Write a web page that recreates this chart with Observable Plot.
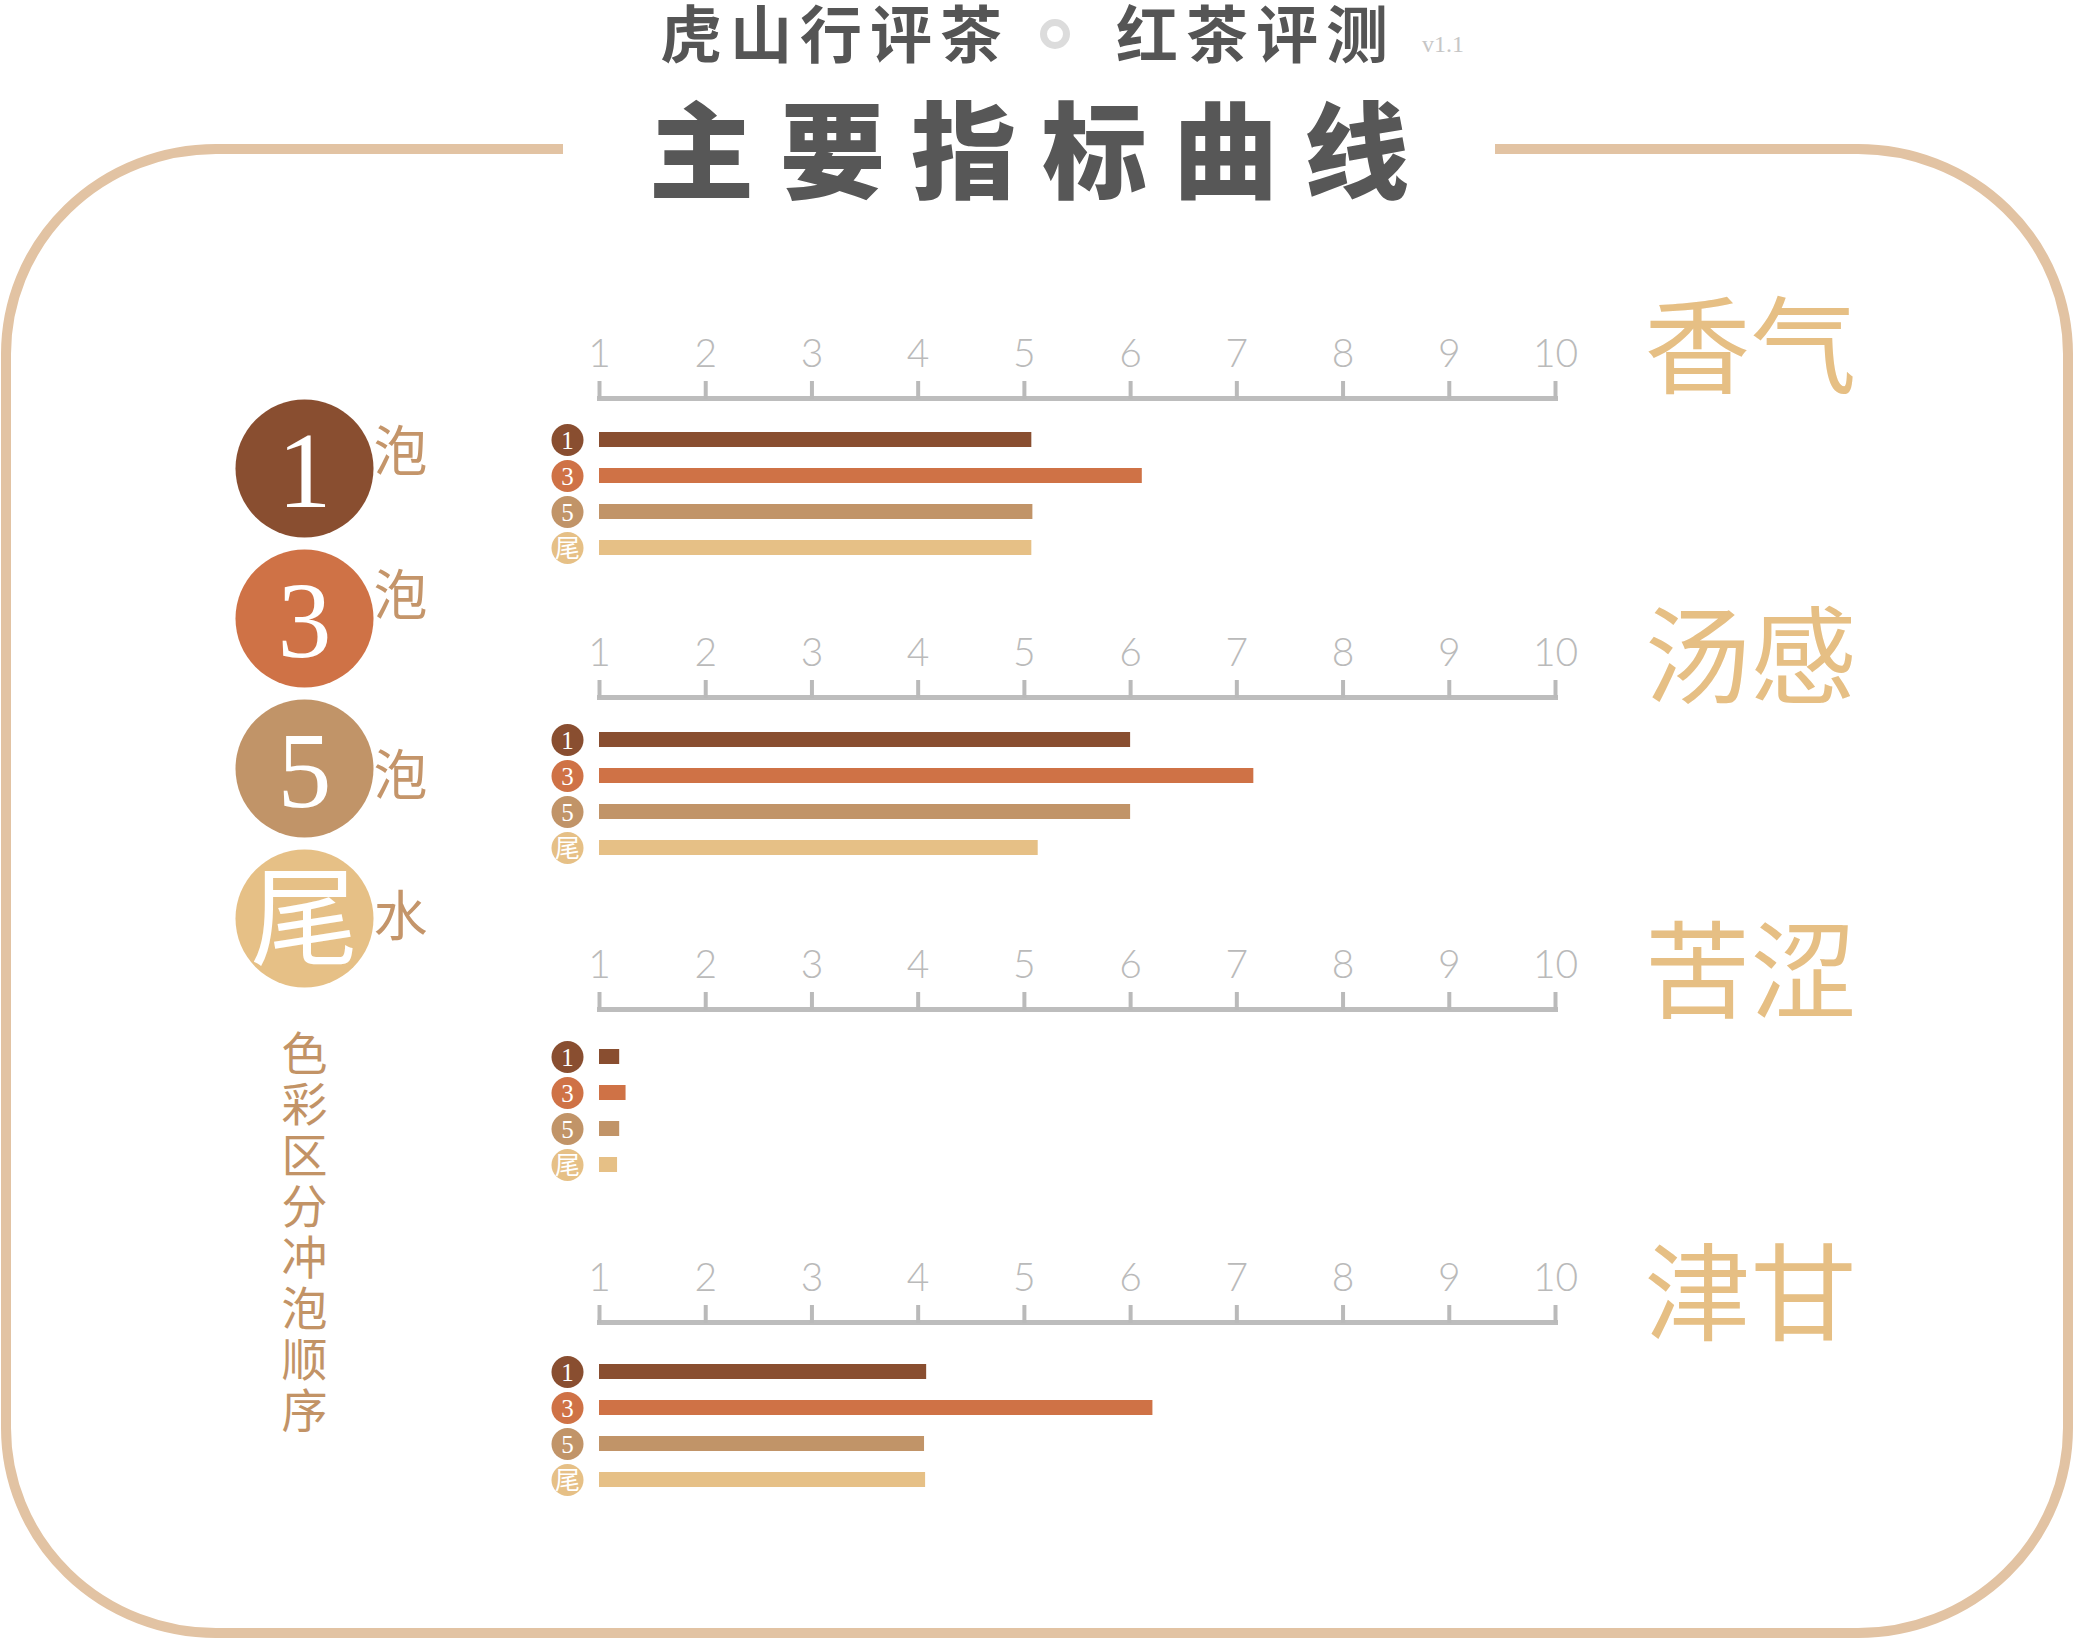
<!DOCTYPE html>
<html>
<head>
<meta charset="utf-8">
<script src="https://cdn.jsdelivr.net/npm/d3@7"></script>
<script src="https://cdn.jsdelivr.net/npm/@observablehq/plot@0.6"></script>
<style>
html, body { margin: 0; padding: 0; background: #fff; }
#root { position: relative; width: 2075px; height: 1640px; overflow: hidden; background: #fff; }
.abs { position: absolute; }
.abs svg { display: block; max-width: none; }
.cjk { font-family: "Noto Sans CJK SC", "Noto Sans", sans-serif; white-space: nowrap; }
</style>
</head>
<body>
<div id="root"></div>
<script>
// ---------- data ----------
const metrics = ["香气", "汤感", "苦涩", "津甘"];
const brews = ["1泡", "3泡", "5泡", "尾水"];
const brewMarks = ["1", "3", "5", "尾"];
const brewSuffix = ["泡", "泡", "泡", "水"];
const brewColors = ["#894e30", "#cf7246", "#c19468", "#e6c086"];
const aroma = [5.07, 6.11, 5.08, 5.07];       // 香气
const body = [6.0, 7.16, 6.0, 5.13];          // 汤感
const bitterness = [1.19, 1.25, 1.19, 1.17];  // 苦涩
const sweetness = [4.08, 6.21, 4.06, 4.07];   // 津甘
const tickValues = [1, 2, 3, 4, 5, 6, 7, 8, 9, 10];
const titleLeft = "虎山行评茶";
const titleRight = "红茶评测";
const version = "v1.1";
const title = "主要指标曲线";
const legendNote = "色彩区分冲泡顺序";

// ---------- layout ----------
const root = document.getElementById("root");
const W = 2075;
const X0 = 599, X1 = 1555;
const axisYs = [398, 697, 1009, 1322];
const barOffsets = [33, 34.5, 39, 41.5];
const labelDy = [-47, -36, -33, -24];
const suffixDy = [-15, -21, 9, 0];
const MT = 120;

function place(el, left, top) {
  const d = document.createElement("div");
  d.className = "abs";
  d.style.left = left + "px";
  d.style.top = top + "px";
  d.appendChild(el);
  root.appendChild(d);
  return d;
}

// border (decoration)
const ns = "http://www.w3.org/2000/svg";
const bsvg = document.createElementNS(ns, "svg");
bsvg.setAttribute("width", W);
bsvg.setAttribute("height", 1640);
const bpath = document.createElementNS(ns, "path");
const L = 6, R = 2068, T = 149, B = 1633, rx = 210, ry = 205;
bpath.setAttribute("d",
  `M563,${T} L${L + rx},${T} A${rx},${ry} 0 0 0 ${L},${T + ry} L${L},${B - ry} A${rx},${ry} 0 0 0 ${L + rx},${B} ` +
  `L${R - rx},${B} A${rx},${ry} 0 0 0 ${R},${B - ry} L${R},${T + ry} A${rx},${ry} 0 0 0 ${R - rx},${T} L1495,${T}`);
bpath.setAttribute("fill", "none");
bpath.setAttribute("stroke", "#e2c3a3");
bpath.setAttribute("stroke-width", 10);
bsvg.appendChild(bpath);
place(bsvg, 0, 0);

// titles
function textDiv(txt, css) {
  const d = document.createElement("div");
  d.className = "cjk";
  d.textContent = txt;
  Object.assign(d.style, css);
  return d;
}
place(textDiv(titleLeft, {fontSize: "62px", lineHeight: "62px", fontWeight: 700, color: "#555", letterSpacing: "8px"}), 660, 0);
place(textDiv(titleRight, {fontSize: "62px", lineHeight: "62px", fontWeight: 700, color: "#555", letterSpacing: "8px"}), 1116, 0);
const ring = document.createElement("div");
Object.assign(ring.style, {width: "16px", height: "16px", border: "7px solid #dcdcdc", borderRadius: "50%"});
place(ring, 1040, 19);
place(textDiv(version, {fontSize: "24px", lineHeight: "24px", color: "#c6c6c6", fontFamily: "'Liberation Serif', serif"}), 1422, 32);
place(textDiv(title, {fontSize: "105px", lineHeight: "105px", fontWeight: 900, color: "#575757", letterSpacing: "26px"}), 649, 92);

// ---------- panels ----------
const seriesByMetric = [aroma, body, bitterness, sweetness];
metrics.forEach((m, k) => {
  const data = brews.map((b, i) => ({brew: b, mark: brewMarks[i], value: seriesByMetric[k][i]}));
  const y0 = MT + barOffsets[k];
  const chart = Plot.plot({
    width: W,
    height: MT + 175,
    marginTop: MT,
    marginBottom: 0,
    marginLeft: X0,
    marginRight: W - X1,
    style: {background: "transparent", overflow: "visible"},
    x: {domain: [1, 10], axis: null, label: null},
    y: {domain: brews, range: [y0, y0 + 124.5], paddingInner: 0.57, paddingOuter: 0, axis: null, label: null},
    color: {domain: brews, range: brewColors},
    marks: [
      Plot.frame({anchor: "top", stroke: "#bdbdbd", strokeWidth: 5}),
      Plot.axisX({
        anchor: "top", ticks: tickValues, tickSize: 18, tickPadding: 14, label: null,
        color: "#bababa", strokeWidth: 4, fontSize: 39, fontWeight: 300,
        fontFamily: "Lato, 'Open Sans', sans-serif", tickFormat: d => String(d)
      }),
      Plot.barX(data, {x1: 1, x2: "value", y: "brew", fill: "brew"}),
      Plot.dot(data, {x: 1, y: "brew", r: 16, fill: "brew", dx: -32}),
      Plot.text(data, {x: 1, y: "brew", text: "mark", dx: -32, dy: 1, fill: "white", fontSize: 25,
        fontFamily: "'Liberation Serif', 'Noto Sans CJK SC', serif"}),
      Plot.text([m], {x: 10, frameAnchor: "top", lineAnchor: "middle", dx: 195, dy: labelDy[k],
        fill: "#e6bf84", fontSize: 106, fontFamily: "'Noto Sans CJK SC', sans-serif", fontWeight: 400})
    ]
  });
  place(chart, 0, axisYs[k] - MT);
});

// ---------- legend ----------
const legendData = brews.map((b, i) => ({brew: b, mark: brewMarks[i], suffix: brewSuffix[i]}));
const legend = Plot.plot({
  width: 608,
  height: 1000,
  margin: 0,
  style: {background: "transparent", overflow: "visible"},
  x: {axis: null},
  y: {domain: brews, type: "point", range: [468, 918], padding: 0, axis: null},
  color: {domain: brews, range: brewColors},
  marks: [
    Plot.dot(legendData, {y: "brew", r: 69, fill: "brew"}),
    Plot.text(legendData, {y: "brew", text: "mark", fill: "white", fontSize: 108, dy: 4,
      fontFamily: "'Liberation Serif', 'Noto Sans CJK SC', serif"}),
    ...legendData.map((d, i) => Plot.text([d], {y: "brew", text: "suffix", dx: 96, dy: suffixDy[i],
      fill: "#c4956a", fontSize: 54, fontFamily: "'Noto Sans CJK SC', sans-serif"}))
  ]
});
place(legend, 0, 0);

const note = textDiv(legendNote, {fontSize: "46px", lineHeight: "51px", color: "#c29366", width: "51px",
  whiteSpace: "normal", wordBreak: "break-all", textAlign: "center"});
place(note, 279, 1025);
</script>
</body>
</html>
